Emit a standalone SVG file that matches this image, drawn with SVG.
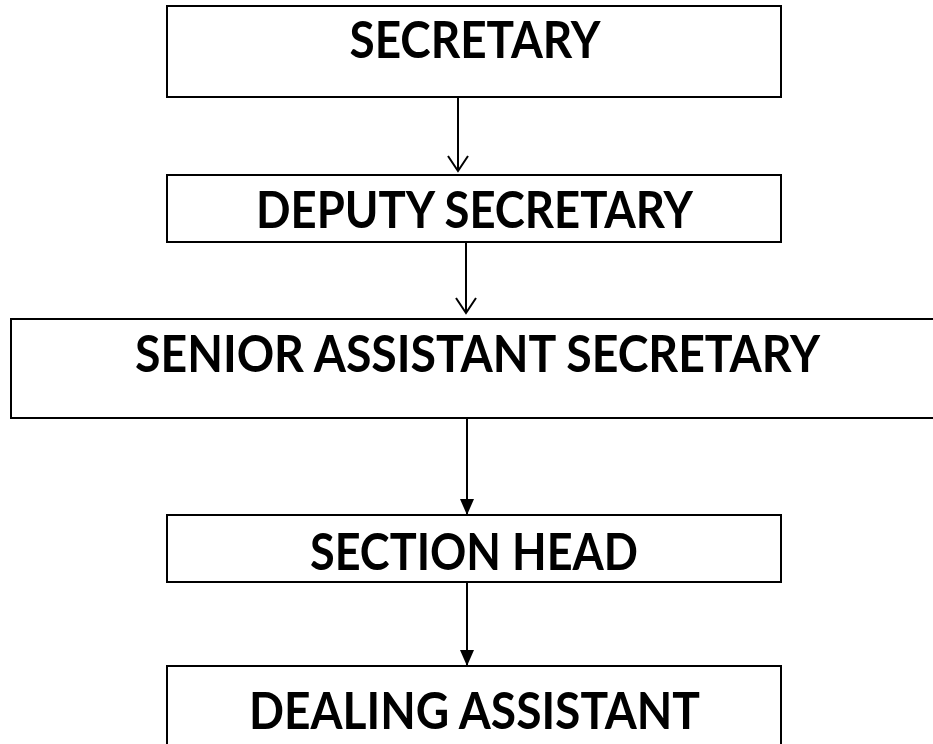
<svg xmlns="http://www.w3.org/2000/svg" width="933" height="744" viewBox="0 0 933 744">
<style>
.box{fill:#fff;stroke:#000;stroke-width:2}
.lbl{font-family:Lato,"Open Sans","Liberation Sans",sans-serif;font-weight:bold;font-size:52px;fill:#000;text-anchor:middle}
.ln{stroke:#000;stroke-width:2;fill:none}
</style>
<defs>
<marker id="open" viewBox="0 0 20 22" refX="18" refY="11" markerWidth="20" markerHeight="22" markerUnits="userSpaceOnUse" orient="auto">
<path d="M3,1 L18,11 L3,21" fill="none" stroke="#000" stroke-width="2"/>
</marker>
<marker id="solid" viewBox="0 0 16 14" refX="16" refY="7" markerWidth="16" markerHeight="14" markerUnits="userSpaceOnUse" orient="auto">
<path d="M0,0 L16,7 L0,14 Z" fill="#000"/>
</marker>
</defs>
<g id="n1"><rect class="box" x="167" y="6" width="614" height="91"/><text class="lbl" x="475" y="58" textLength="251" lengthAdjust="spacingAndGlyphs">SECRETARY</text></g>
<g id="n2"><rect class="box" x="167" y="175" width="614" height="67"/><text class="lbl" x="474.5" y="228" textLength="437" lengthAdjust="spacingAndGlyphs">DEPUTY SECRETARY</text></g>
<g id="n3"><rect class="box" x="11" y="319" width="930" height="99"/><text class="lbl" x="477.5" y="372" textLength="685" lengthAdjust="spacingAndGlyphs">SENIOR ASSISTANT SECRETARY</text></g>
<g id="n4"><rect class="box" x="167" y="515" width="614" height="67"/><text class="lbl" x="474" y="570" textLength="328" lengthAdjust="spacingAndGlyphs">SECTION HEAD</text></g>
<g id="n5"><rect class="box" x="167" y="666" width="614" height="100"/><text class="lbl" x="474.5" y="729" textLength="451" lengthAdjust="spacingAndGlyphs">DEALING ASSISTANT</text></g>
<g id="connectors">
<line class="ln" x1="458" y1="97" x2="458" y2="171" marker-end="url(#open)"/>
<line class="ln" x1="466" y1="242" x2="466" y2="313" marker-end="url(#open)"/>
<line class="ln" x1="467" y1="418" x2="467" y2="515" marker-end="url(#solid)"/>
<line class="ln" x1="467" y1="582" x2="467" y2="666" marker-end="url(#solid)"/>
</g>
</svg>
